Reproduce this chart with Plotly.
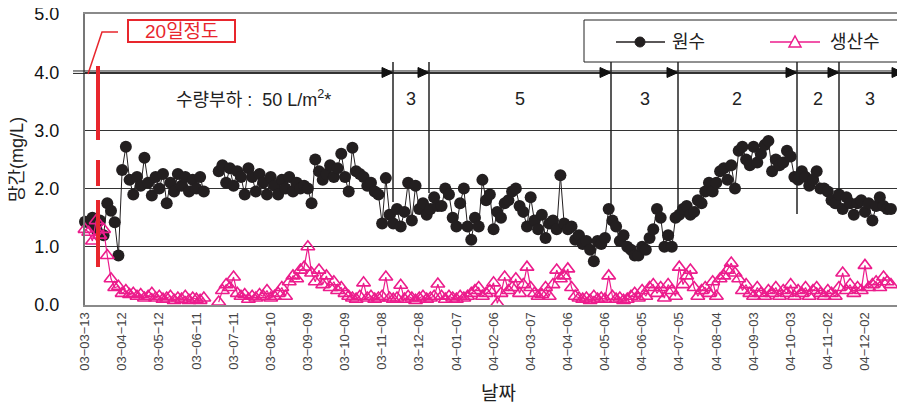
import plotly.graph_objects as go
import pandas as pd

# ---------------- data ----------------
START = "2003-03-13"
STEP_DAYS = 3

raw_water = [
    1.43, 1.42, 1.5, 1.3, 1.45, 1.2, 1.75, 1.62, 1.42, 0.85,
    2.32, 2.72, 2.15, 1.9, 2.2, 2.05, 2.53, 2.1, 1.88, 2.2,
    2.0, 2.25, 1.75, 2.1, 1.95, 2.25, 2.05, 2.2, 1.95, 2.15,
    2.0, 2.2, 1.95, None, None, None, 2.3, 2.4, 2.1, 2.35,
    2.05, 2.3, 2.2, 1.9, 2.35, 2.2, 1.95, 2.25, 2.1, 1.9,
    2.2, 2.05, 1.9, 2.15, 2.0, 2.2, 1.95, 2.1, 2.0, 2.05,
    2.0, 1.75, 2.5, 2.3, 2.15, 2.25, 2.4, 2.2, 2.35, 2.6,
    2.2, 1.95, 2.7, 2.3, 2.25, 2.2, 2.05, 2.1, 1.95, 1.9,
    1.4, 2.18, 1.55, 1.4, 1.65, 1.35, 1.6, 2.1, 1.45, 2.05,
    1.65, 1.75, 1.55, 1.65, 1.85, 1.7, 1.7, 2.0, 1.9, 1.5,
    1.35, 1.75, 2.0, 1.35, 1.12, 1.5, 1.35, 2.15, 1.8, 1.9,
    1.3, 1.6, 1.5, 1.75, 1.8, 1.95, 2.0, 1.7, 1.6, 1.35,
    1.85, 1.45, 1.3, 1.55, 1.15, 1.4, 1.45, 1.3, 2.23, 1.4,
    1.3, 1.35, 1.12, 1.2, 1.05, 1.1, 0.95, 0.75, 1.1, 1.05,
    1.15, 1.65, 1.45, 1.35, 1.1, 1.2, 1.0, 0.95, 0.85, 0.85,
    1.0, 0.95, 1.15, 1.3, 1.65, 1.5, 1.0, 1.2, 1.0, 1.5,
    1.55, 1.65, 1.7, 1.55, 1.6, 1.8, 1.75, 1.95, 2.1, 1.95,
    2.1, 2.3, 2.35, 2.15, 2.4, 2.0, 2.65, 2.72, 2.5, 2.4,
    2.72, 2.45, 2.6, 2.75, 2.82, 2.3, 2.5, 2.4, 2.45, 2.65,
    2.55, 2.2, 2.15, 2.3, 2.2, 2.05, 2.15, 2.3, 2.0, 2.0,
    1.95, 1.8, 1.75, 1.9, 1.65, 1.85, 1.75, 1.55, 1.75, 1.8,
    1.6, 1.75, 1.45, 1.7, 1.85, 1.7, 1.65, 1.65,
]

product_water = [
    1.3, 1.25, 1.1, 1.45, 1.2, 1.3, 0.85, 0.45, 0.3, 0.32,
    0.2, 0.25, 0.18, 0.2, 0.15, 0.18, 0.12, 0.15, 0.2, 0.12,
    0.15, 0.1, 0.12, 0.15, 0.08, 0.12, 0.1, 0.15, 0.08, 0.12,
    0.1, 0.08, 0.12, None, None, None, 0.05, 0.25, 0.35, 0.3,
    0.48, 0.2, 0.15, 0.18, 0.1, 0.15, 0.12, 0.18, 0.15, 0.25,
    0.12, 0.15, 0.2, 0.3, 0.15, 0.4, 0.5, 0.45, 0.6, 0.65,
    1.0, 0.55, 0.4, 0.6, 0.35, 0.5, 0.3, 0.4, 0.25, 0.3,
    0.2, 0.15, 0.12, 0.1, 0.15, 0.38, 0.12, 0.15, 0.1, 0.12,
    0.15, 0.48, 0.12, 0.1, 0.12, 0.34, 0.1, 0.15, 0.12, 0.08,
    0.12, 0.15, 0.1, 0.12, 0.15, 0.36, 0.15, 0.1, 0.15, 0.12,
    0.1, 0.15, 0.12, 0.15, 0.2, 0.25, 0.3, 0.15, 0.2, 0.25,
    0.38, 0.03, 0.2, 0.48, 0.25, 0.3, 0.45, 0.2, 0.35, 0.65,
    0.3, 0.2, 0.15, 0.18, 0.3, 0.15, 0.35, 0.6, 0.45, 0.5,
    0.62, 0.3, 0.15, 0.12, 0.1, 0.12, 0.08, 0.15, 0.1, 0.12,
    0.1, 0.5, 0.15, 0.1, 0.12, 0.08, 0.1, 0.15, 0.2, 0.12,
    0.25, 0.15, 0.3, 0.35, 0.2, 0.3, 0.12, 0.35, 0.25, 0.15,
    0.65, 0.35, 0.5, 0.6, 0.3, 0.15, 0.25, 0.3, 0.2, 0.4,
    0.15, 0.45, 0.5, 0.6, 0.72, 0.55, 0.45, 0.25, 0.35, 0.2,
    0.15, 0.3, 0.2, 0.15, 0.25, 0.2, 0.3, 0.15, 0.25, 0.2,
    0.35, 0.15, 0.25, 0.2, 0.3, 0.15, 0.25, 0.3, 0.2, 0.15,
    0.25, 0.2, 0.15, 0.3, 0.55, 0.25, 0.35, 0.2, 0.3, 0.25,
    0.68, 0.3, 0.35, 0.4, 0.3, 0.48, 0.4, 0.35,
]

TICK_STEP_DAYS = 30
N_TICKS = 22
AXIS_SPAN_DAYS = 658.3

series_names = ["원수", "생산수"]
load_labels = ["수량부하 :  50 L/m<sup>2</sup>*", "3", "5", "3", "2", "2", "3"]
y_ticks = [0, 1, 2, 3, 4, 5]
y_ticktext = ["0.0", "1.0", "2.0", "3.0", "4.0", "5.0"]

# ---------------- build ----------------
start = pd.Timestamp(START)
dates = [start + pd.Timedelta(days=STEP_DAYS * i) for i in range(len(raw_water))]
tick_dates = [start + pd.Timedelta(days=TICK_STEP_DAYS * k) for k in range(N_TICKS)]
tick_text = [d.strftime("%y-%m-%d").replace("-", "\u2212") for d in tick_dates]
x_end = start + pd.Timedelta(days=AXIS_SPAN_DAYS)

BLACK = "#231F20"
PINK = "#EC1C8C"
RED = "#E8262D"
FONT = "Liberation Sans, Noto Sans CJK KR, sans-serif"

# page offset (body margin) and plot area in screen pixels
OFF = 8
W, H = 905 - OFF, 408 - OFF
L, R, T, B = 85, 900, 14, 305   # screen pixels


def PX(x):
    return (x - L) / (R - L)


def PY(y):
    return (B - y) / (B - T)


fig = go.Figure()
fig.add_trace(go.Scatter(
    x=dates, y=raw_water, name=series_names[0], mode="lines+markers",
    line=dict(color=BLACK, width=1),
    marker=dict(symbol="circle", size=12, color=BLACK),
    showlegend=False, cliponaxis=False,
))
fig.add_trace(go.Scatter(
    x=dates, y=product_water, name=series_names[1], mode="lines+markers",
    line=dict(color=PINK, width=1.2),
    marker=dict(symbol="triangle-up-open", size=12, color=PINK, line=dict(color=PINK, width=1.6)),
    showlegend=False, cliponaxis=False,
))

shapes = []
annotations = []

# double line at 4.0
for yy in (4.021, 3.979):
    shapes.append(dict(type="line", xref="paper", yref="y", x0=PX(73), x1=PX(903),
                       y0=yy, y1=yy, line=dict(color="#222", width=1)))

# arrow heads and separators
tips = [393, 429, 611, 678, 797, 839, 903]
for tx in tips:
    path = "M {a},{b} L {c},{d} L {c},{e} Z".format(
        a=PX(tx), b=PY(72.5), c=PX(tx - 11), d=PY(67.5), e=PY(77.5))
    shapes.append(dict(type="path", xref="paper", yref="paper", path=path,
                       fillcolor="#111", line=dict(color="#111", width=1)))
sep_x = [393, 429, 611, 678, 797, 839]
sep_end = [202, 193, 212, 222, 214, 192]
for sx, se in zip(sep_x, sep_end):
    shapes.append(dict(type="line", xref="paper", yref="paper", x0=PX(sx), x1=PX(sx),
                       y0=PY(62), y1=PY(se), line=dict(color="#222", width=1.5)))

# load labels
label_x = [253, 411, 520, 645, 737, 818, 870]
for lx, txt in zip(label_x, load_labels):
    annotations.append(dict(xref="paper", yref="paper", x=PX(lx), y=PY(99), text=txt,
                            showarrow=False, xanchor="center", yanchor="middle",
                            font=dict(size=18, color="#222", family=FONT)))

# red "20일정도" marker
shapes.append(dict(type="rect", xref="paper", yref="paper", x0=PX(128), x1=PX(235),
                   y0=PY(20), y1=PY(42), line=dict(color=RED, width=2), fillcolor="white"))
annotations.append(dict(xref="paper", yref="paper", x=PX(181.5), y=PY(31), text="20일정도",
                        showarrow=False, xanchor="center", yanchor="middle",
                        font=dict(size=19, color=RED, family=FONT)))
shapes.append(dict(type="path", xref="paper", yref="paper",
                   path="M {a},{b} L {c},{d} L {e},{d}".format(
                       a=PX(88), b=PY(74), c=PX(102), d=PY(32), e=PX(118)),
                   line=dict(color=RED, width=1.5)))
for y0, y1 in [(66, 140), (160, 186), (200, 267)]:
    shapes.append(dict(type="line", xref="paper", yref="paper", x0=PX(98), x1=PX(98),
                       y0=PY(y0), y1=PY(y1), line=dict(color=RED, width=4)))

# legend (drawn)
shapes.append(dict(type="rect", xref="paper", yref="paper", x0=PX(584), x1=PX(915),
                   y0=PY(20), y1=PY(62), line=dict(color="#222", width=1), fillcolor="white"))
shapes.append(dict(type="line", xref="paper", yref="paper", x0=PX(616), x1=PX(665),
                   y0=PY(42), y1=PY(42), line=dict(color=BLACK, width=1.5)))
shapes.append(dict(type="circle", xref="paper", yref="paper", x0=PX(635), x1=PX(645),
                   y0=PY(37), y1=PY(47), fillcolor=BLACK, line=dict(color=BLACK, width=1)))
shapes.append(dict(type="line", xref="paper", yref="paper", x0=PX(770), x1=PX(820),
                   y0=PY(42), y1=PY(42), line=dict(color=PINK, width=1.5)))
shapes.append(dict(type="path", xref="paper", yref="paper",
                   path="M {a},{b} L {c},{b} L {d},{e} Z".format(
                       a=PX(789), b=PY(47), c=PX(801), d=PX(795), e=PY(36)),
                   fillcolor="white", line=dict(color=PINK, width=1.5)))
annotations.append(dict(xref="paper", yref="paper", x=PX(670), y=PY(42), text=series_names[0],
                        showarrow=False, xanchor="left", yanchor="middle",
                        font=dict(size=18, color="#222", family=FONT)))
annotations.append(dict(xref="paper", yref="paper", x=PX(828), y=PY(42), text=series_names[1],
                        showarrow=False, xanchor="left", yanchor="middle",
                        font=dict(size=18, color="#222", family=FONT)))

# axis titles
annotations.append(dict(xref="paper", yref="paper", x=PX(17), y=PY(160), text="망간(mg/L)",
                        showarrow=False, textangle=-90, xanchor="center", yanchor="middle",
                        font=dict(size=18, color="#222", family=FONT)))
annotations.append(dict(xref="paper", yref="paper", x=PX(499), y=PY(393), text="날짜",
                        showarrow=False, xanchor="center", yanchor="middle",
                        font=dict(size=19, color="#222", family=FONT)))

fig.update_layout(
    width=W, height=H,
    margin=dict(l=L - OFF, r=W - (R - OFF), t=T - OFF, b=H - (B - OFF), autoexpand=False),
    paper_bgcolor="white", plot_bgcolor="white",
    font=dict(family=FONT),
    shapes=shapes, annotations=annotations,
    showlegend=False,
)
fig.update_xaxes(
    type="date", range=[start, x_end],
    tickvals=tick_dates, ticktext=tick_text, tickangle=-90,
    tickfont=dict(size=13, color="#444", family=FONT),
    showgrid=False, showline=True, linecolor="#8a8a8a", linewidth=2, mirror=True,
    ticks="", zeroline=False, automargin=False, ticklabeloverflow="allow",
)
fig.update_yaxes(
    range=[0, 5], tickvals=y_ticks, ticktext=y_ticktext,
    tickfont=dict(size=18, color="#111", family=FONT),
    showgrid=True, gridcolor="#333", gridwidth=1,
    showline=True, linecolor="#777", linewidth=2, mirror=True,
    ticks="", ticklabelstandoff=20, zeroline=False, automargin=False,
    ticklabeloverflow="allow",
)

fig.write_html("out.html")
